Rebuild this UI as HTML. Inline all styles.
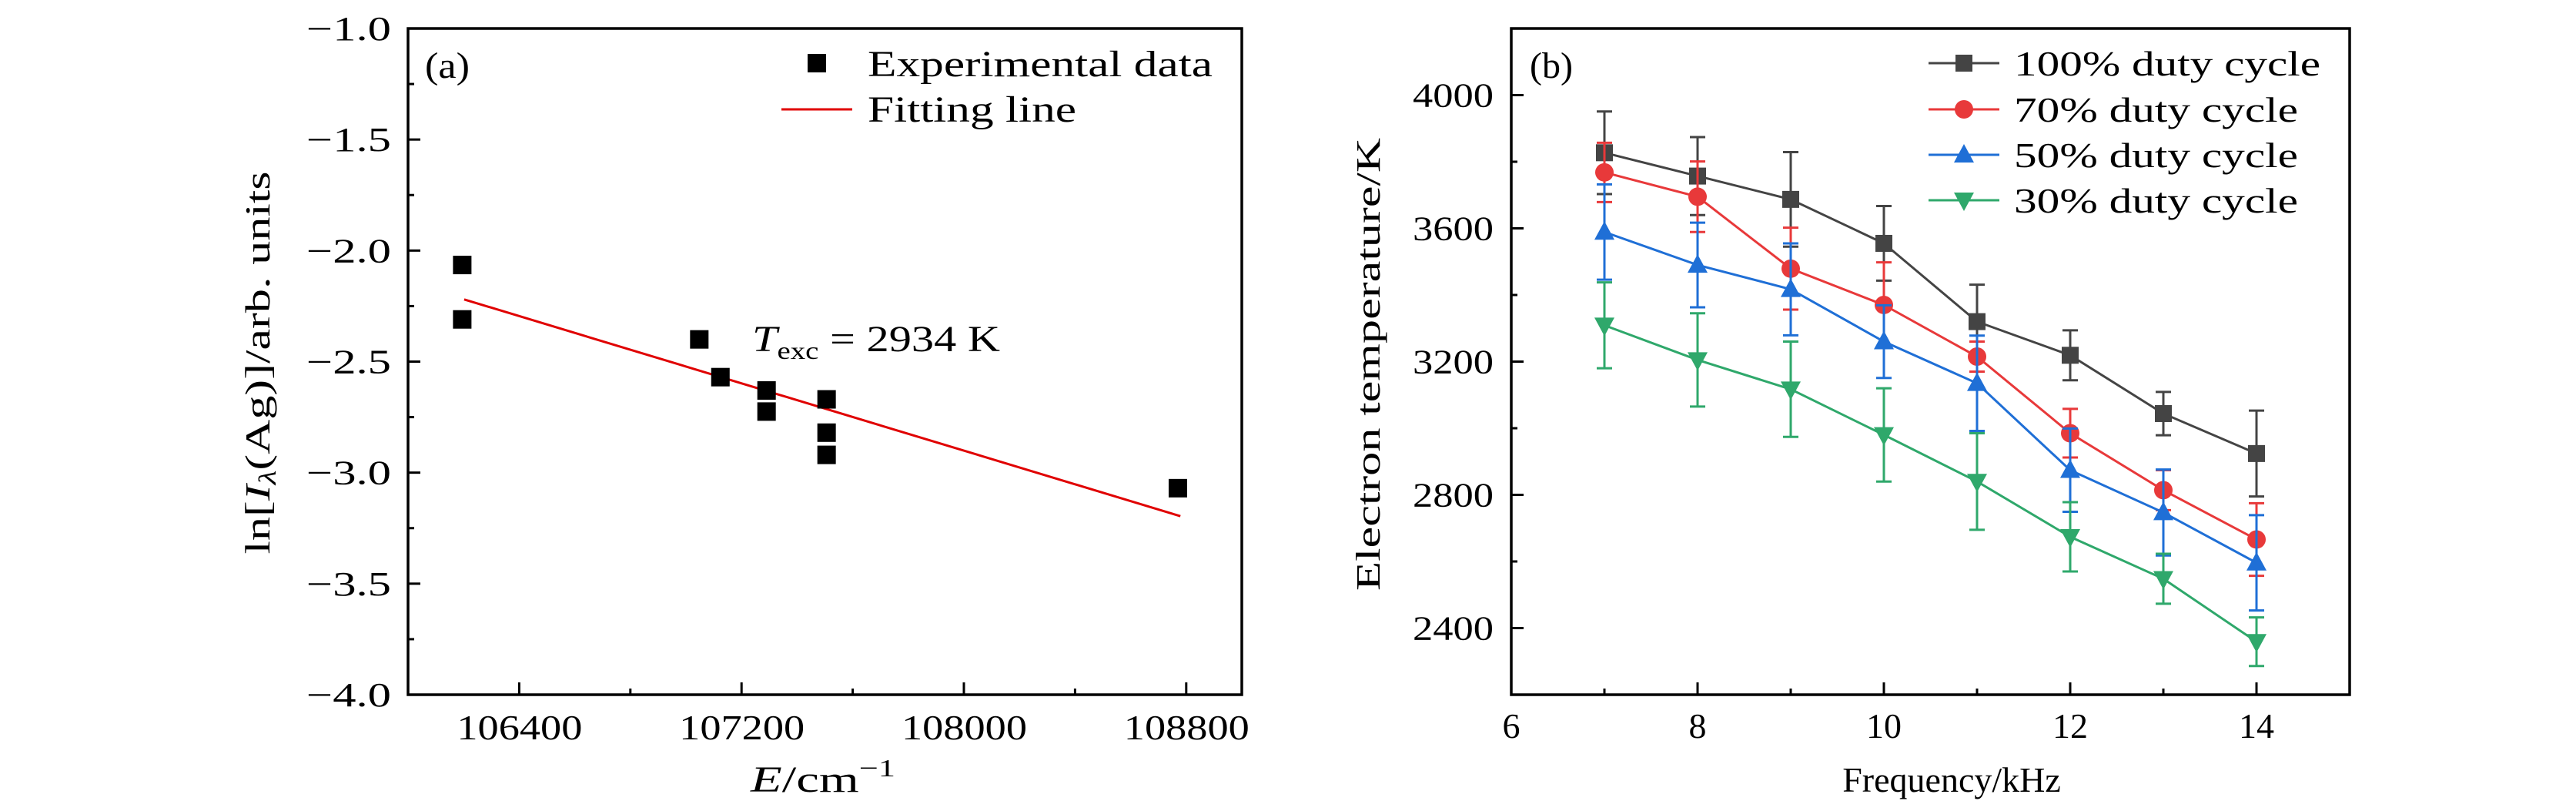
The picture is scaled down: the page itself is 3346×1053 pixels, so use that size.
<!DOCTYPE html>
<html><head><meta charset="utf-8"><style>
html,body{margin:0;padding:0;background:#fff;}
svg{display:block;font-family:"Liberation Serif",serif;}
</style></head><body>
<svg id="fig" width="3346" height="1053" viewBox="0 0 3346 1053" xmlns="http://www.w3.org/2000/svg">
<g id="pa"></g>
<g id="pb"></g>
</svg>
<script>
// ---- Panel (a) data ----
const aEnergy = [106195,106195,107048,107124,107290,107290,107506,107506,107506,108770];
const aLnI = [-2.065,-2.31,-2.40,-2.57,-2.63,-2.725,-2.67,-2.82,-2.92,-3.07];
const aFitE = [106202,108779];
const aFitY = [-2.22,-3.196];
const aXTicks = [106400,107200,108000,108800];
const aYTicks = [-1.0,-1.5,-2.0,-2.5,-3.0,-3.5,-4.0];
// ---- Panel (b) data ----
const bFreq = [7,8,9,10,11,12,13,14];
const bT100 = [3827,3757,3687,3555,3320,3219,3044,2924];
const bE100 = [124,117,142,112,111,75,65,129];
const bT70 = [3768,3695,3479,3370,3215,2985,2814,2666];
const bE70 = [89,106,123,128,45,73,60,109];
const bT50 = [3589,3490,3417,3260,3135,2874,2747,2596];
const bE50 = [143,127,138,109,143,125,129,143];
const bT30 = [3309,3205,3117,2980,2840,2674,2548,2359];
const bE30 = [129,140,143,140,145,104,75,73];
const bXTicks = [6,8,10,12,14];
const bYTicks = [2400,2800,3200,3600,4000];

const NS="http://www.w3.org/2000/svg";
function mk(parent,tag,attrs,text){const e=document.createElementNS(NS,tag);for(const k in attrs)e.setAttribute(k,attrs[k]);if(text!==undefined)e.textContent=text;parent.appendChild(e);return e;}

// Panel a axes
const aL=530,aR=1613,aT=37,aB=902;
const ax=v=>aL+(v-106000)/3000*(aR-aL);
const ay=v=>aT+(-1-v)/3*(aB-aT);
const pa=document.getElementById('pa');
let fr=mk(pa,'rect',{x:aL,y:aT,width:aR-aL,height:aB-aT,fill:'none',stroke:'#000','stroke-width':3.5});


for(let v=-1;v>=-4.001;v-=0.25){const y=ay(v);const major=Math.abs(v*2-Math.round(v*2))<1e-6;
 const t=mk(pa,'line',{x1:aL,x2:aL+(major?16:8),y1:y,y2:y,stroke:'#000','stroke-width':3});
 
 }
aYTicks.forEach(v=>{const t=mk(pa,'text',{x:398,y:ay(v)+15,'font-size':44,textLength:110,lengthAdjust:'spacingAndGlyphs'},'\u2212'+Math.abs(v).toFixed(1));
 
 });
for(let v=106400;v<=108800;v+=400){const x=ax(v);const major=(v-106400)%800===0;
 const t=mk(pa,'line',{x1:x,x2:x,y1:aB,y2:aB-(major?16:8),stroke:'#000','stroke-width':3});
 
 }
aXTicks.forEach(v=>{const t=mk(pa,'text',{x:ax(v)-81,y:960,'font-size':46,textLength:163,lengthAdjust:'spacingAndGlyphs'},String(v));
 
 });
let fl=mk(pa,'line',{x1:ax(aFitE[0]),y1:ay(aFitY[0]),x2:ax(aFitE[1]),y2:ay(aFitY[1]),stroke:'#e00000','stroke-width':3});


aEnergy.forEach((e,i)=>{const p=mk(pa,'rect',{x:ax(e)-12,y:ay(aLnI[i])-12,width:24,height:24,fill:'#000'});
 
 });
</script>
<script>
(function(){
const pa=document.getElementById('pa');
const T=(x,y,s,txt,len)=>mk(pa,'text',Object.assign({x:x,y:y,'font-size':s},len?{textLength:len,lengthAdjust:'spacingAndGlyphs'}:{}),txt);
let t;
t=T(552,101,48,'(a)',58);
let lr=mk(pa,'rect',{x:1049,y:70,width:24,height:24,fill:'#000'});
t=T(1127,99,48,'Experimental data',448);
let ll=mk(pa,'line',{x1:1015,x2:1107,y1:142,y2:142,stroke:'#e00000','stroke-width':3});
t=T(1127,158,48,'Fitting line',271);
t=mk(pa,'text',{x:977,y:456,'font-size':48,textLength:322,lengthAdjust:'spacingAndGlyphs'});

mk(t,'tspan',{'font-style':'italic'},'T');mk(t,'tspan',{'font-size':32,dy:10},'exc');mk(t,'tspan',{dy:-10},' = 2934 K');
t=mk(pa,'text',{x:975,y:1028,'font-size':48,textLength:188,lengthAdjust:'spacingAndGlyphs'});

mk(t,'tspan',{'font-style':'italic'},'E');mk(t,'tspan',{},'/cm');mk(t,'tspan',{'font-size':32,dy:-20},'\u22121');
t=mk(pa,'text',{x:0,y:0,'font-size':46,'text-anchor':'middle',textLength:497,lengthAdjust:'spacingAndGlyphs',transform:'translate(350,471) rotate(-90)'});

mk(t,'tspan',{},'ln[');mk(t,'tspan',{'font-style':'italic'},'I');mk(t,'tspan',{'font-size':32,dy:8,'font-style':'italic'},'\u03bb');mk(t,'tspan',{dy:-8},'(Ag)]/arb. units');

// Panel b
const pb=document.getElementById('pb');
const bL=1963,bR=3052,bT=37,bB=902;
const bx=v=>bL+(v-6)/9*(bR-bL);
const by=v=>bT+(4200-v)/2000*(bB-bT);
let f=mk(pb,'rect',{x:bL,y:bT,width:bR-bL,height:bB-bT,fill:'none',stroke:'#000','stroke-width':3.5});

for(let v=2400;v<=4200;v+=200){const y=by(v);const major=v%400===0;
 const k=mk(pb,'line',{x1:bL,x2:bL+(major?16:8),y1:y,y2:y,stroke:'#000','stroke-width':3});
 
 }
bYTicks.forEach(v=>{const k=mk(pb,'text',{x:1835,y:by(v)+15,'font-size':44,textLength:105,lengthAdjust:'spacingAndGlyphs'},String(v));
 
 });
for(let v=7;v<=14;v++){const x=bx(v);const major=v%2===0;
 const k=mk(pb,'line',{x1:x,x2:x,y1:bB,y2:bB-(major?16:8),stroke:'#000','stroke-width':3});
 
 }
bXTicks.forEach(v=>{const k=mk(pb,'text',{x:bx(v),y:958,'text-anchor':'middle','font-size':46},String(v));
 
 });
function marker(g,type,x,y,c){
 if(type==='sq')return mk(g,'rect',{x:x-11,y:y-11,width:22,height:22,fill:c});
 if(type==='ci')return mk(g,'circle',{cx:x,cy:y,r:12,fill:c});
 if(type==='up')return mk(g,'polygon',{points:`${x},${y-14} ${x+13},${y+10} ${x-13},${y+10}`,fill:c});
 return mk(g,'polygon',{points:`${x},${y+14} ${x+13},${y-10} ${x-13},${y-10}`,fill:c});}
const series=[
 {name:'100',vals:bT100,err:bE100,c:'#444444',m:'sq'},
 {name:'70',vals:bT70,err:bE70,c:'#e8393a',m:'ci'},
 {name:'50',vals:bT50,err:bE50,c:'#1f6fd6',m:'up'},
 {name:'30',vals:bT30,err:bE30,c:'#2fa86b',m:'dn'}];
series.forEach(s=>{
 const g=mk(pb,'g',{});
 
 
 s.vals.forEach((v,i)=>{const x=bx(bFreq[i]);
  const e=mk(g,'path',{d:`M${x},${by(v-s.err[i])}V${by(v+s.err[i])}M${x-10},${by(v-s.err[i])}H${x+10}M${x-10},${by(v+s.err[i])}H${x+10}`,stroke:s.c,'stroke-width':3,fill:'none'});
  
  });
 const ln=mk(g,'polyline',{points:s.vals.map((v,i)=>bx(bFreq[i])+','+by(v)).join(' '),fill:'none',stroke:s.c,'stroke-width':3});
 
 
 s.vals.forEach((v,i)=>{const m=marker(g,s.m,bx(bFreq[i]),by(v),s.c);
  
  });
});
const legY=[82,142,201,260];
const legTxt=['100% duty cycle','70% duty cycle','50% duty cycle','30% duty cycle'];
const legW=[398,369,369,369];
series.forEach((s,i)=>{
 const g=mk(pb,'g',{});
 
 
 mk(g,'line',{x1:2505,x2:2597,y1:legY[i],y2:legY[i],stroke:s.c,'stroke-width':3});
 marker(g,s.m,2551,legY[i],s.c);
 mk(g,'text',{x:2616,y:legY[i]+16,'font-size':46,textLength:legW[i],lengthAdjust:'spacingAndGlyphs'},legTxt[i]);
});
t=mk(pb,'text',{x:1987,y:101,'font-size':48},'(b)');
t=mk(pb,'text',{x:2535,y:1028,'font-size':46,'text-anchor':'middle'},'Frequency/kHz');
t=mk(pb,'text',{x:0,y:0,'font-size':44,'text-anchor':'middle',textLength:588,lengthAdjust:'spacingAndGlyphs',transform:'translate(1792,473) rotate(-90)'},'Electron temperature/K');
})();
</script>
</body></html>
